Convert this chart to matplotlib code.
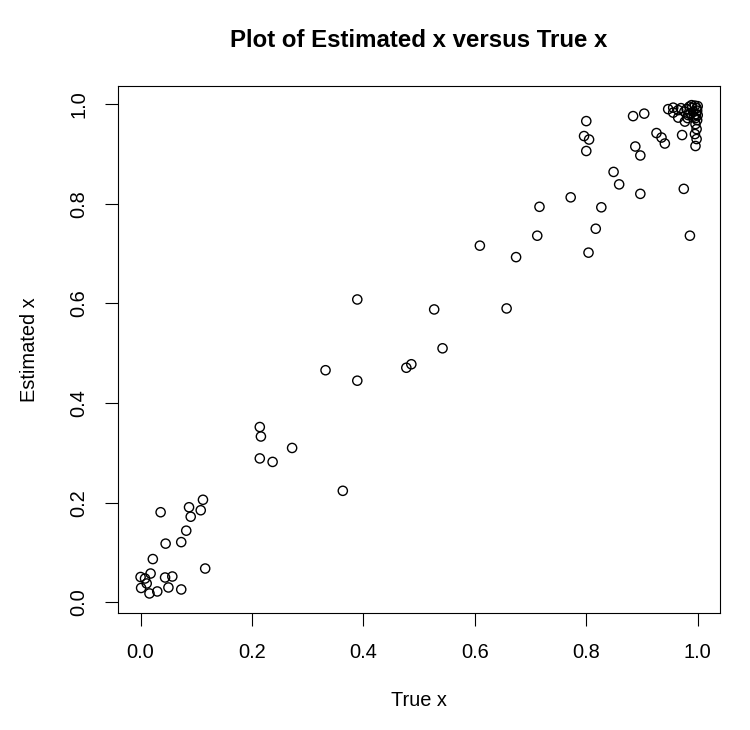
#!/usr/bin/env python3
import numpy as np
import matplotlib
matplotlib.use("Agg")
import matplotlib.pyplot as plt

plt.rcParams["font.family"] = ["Liberation Sans", "DejaVu Sans"]

# valores (True x, Estimated x)
true_x = [
    0.036, 0.087, 0.112, 0.108, 0.090, 0.082, 0.073, 0.045, 0.022, 0.116,
    0.000, 0.008, 0.018, 0.011, 0.001, 0.016, 0.030, 0.044, 0.057, 0.050, 0.073,
    0.389, 0.527, 0.542, 0.486, 0.477, 0.332, 0.389, 0.214, 0.216, 0.272,
    0.214, 0.237, 0.363, 0.657, 0.609, 0.674, 0.712, 0.716, 0.772, 0.804,
    0.817, 0.827, 0.849, 0.859, 0.897, 0.975, 0.986,
    0.800, 0.796, 0.805, 0.800, 0.884, 0.904, 0.888, 0.897, 0.926, 0.935,
    0.941, 0.972, 0.947, 0.956, 0.956, 0.965, 0.977, 0.996, 0.998, 0.995,
    0.998, 0.996,
    0.980, 0.985, 0.990, 0.995, 0.998, 1.000, 0.992, 0.987, 0.997, 0.999,
    0.983, 0.993, 0.976, 0.989, 0.996, 0.999, 0.970, 0.965, 0.982, 1.000,
]
est_x = [
    0.181, 0.191, 0.206, 0.185, 0.172, 0.144, 0.121, 0.118, 0.087, 0.068,
    0.051, 0.048, 0.058, 0.038, 0.029, 0.018, 0.022, 0.050, 0.052, 0.030, 0.026,
    0.608, 0.588, 0.510, 0.478, 0.471, 0.466, 0.445, 0.352, 0.333, 0.310,
    0.289, 0.282, 0.224, 0.590, 0.716, 0.693, 0.736, 0.794, 0.813, 0.702,
    0.750, 0.793, 0.864, 0.839, 0.820, 0.830, 0.736,
    0.966, 0.936, 0.929, 0.906, 0.976, 0.981, 0.915, 0.897, 0.942, 0.933,
    0.921, 0.938, 0.990, 0.993, 0.983, 0.973, 0.965, 0.960, 0.950, 0.940,
    0.930, 0.916,
    0.990, 0.995, 0.993, 0.997, 0.992, 0.996, 0.985, 0.982, 0.980, 0.987,
    0.978, 0.975, 0.985, 0.998, 0.972, 0.968, 0.992, 0.988, 0.972, 0.978,
]
ticks = [0.0, 0.2, 0.4, 0.6, 0.8, 1.0]
tick_labels = ["0.0", "0.2", "0.4", "0.6", "0.8", "1.0"]

fig = plt.figure(figsize=(7.5, 7.3), dpi=100)
ax = fig.add_axes([0.1577, 0.1603, 0.8023, 0.7224])

ax.scatter(true_x, est_x, s=44, facecolors="none", edgecolors="black", linewidths=1.0)
ax.margins(0.04)

ax.set_xticks(ticks)
ax.set_xticklabels(tick_labels)
ax.set_yticks(ticks)
ax.set_yticklabels(tick_labels, rotation=90, va="center")
ax.tick_params(direction="out", length=9.4, width=0.8, pad=12.2,
               labelsize=14.4, top=False, right=False)
for sp in ax.spines.values():
    sp.set_linewidth(0.8)

ax.set_title("Plot of Estimated x versus True x", fontsize=17.3,
             fontweight="bold", pad=27.8)
ax.set_xlabel("True x", fontsize=14.4)
ax.set_ylabel("Estimated x", fontsize=14.4)
ax.xaxis.set_label_coords(0.5, -0.148)
ax.yaxis.set_label_coords(-0.1318, 0.5)

fig.savefig("out.png", dpi=100)
